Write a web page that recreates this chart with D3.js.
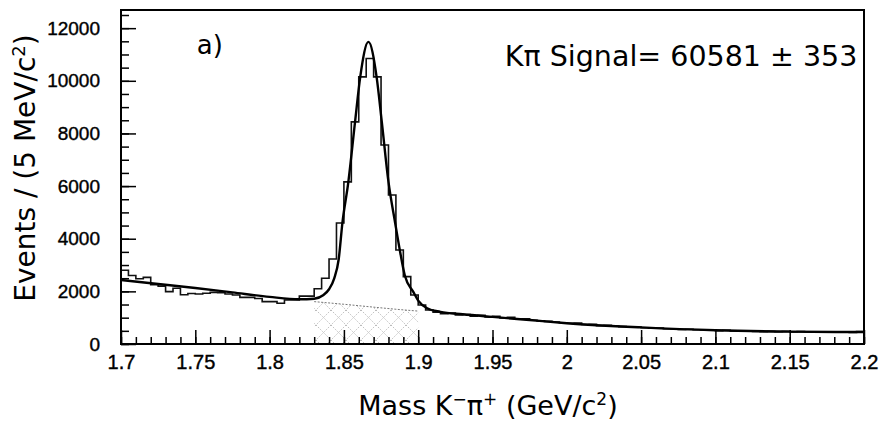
<!DOCTYPE html>
<html>
<head>
<meta charset="utf-8">
<script src="https://cdn.jsdelivr.net/npm/d3@7"></script>
<style>
  body { margin: 0; background: #fff; }
  svg { display: block; font-family: "DejaVu Sans", sans-serif; }
</style>
</head>
<body>
<div id="chart"></div>
<script>
// histogram: 100 bins of 5 MeV from 1.7 to 2.2 GeV
var binStart = 1.7, binWidth = 0.005;
var histCounts = [
  2800, 2600, 2480, 2530, 2250, 2200, 1990, 2120, 1870, 1920,
  1900, 1930, 1960, 1950, 1900, 1860, 1770, 1770, 1730, 1610,
  1610, 1550, 1670, 1670, 1820, 1820, 2100, 2500, 3230, 4600,
  6160, 8440, 10150, 10850, 10150, 7560, 5660, 3570, 2560, 1860,
  1480, 1290, 1210, 1150, 1180, 1100, 1120, 1060, 1090, 1030,
  1050, 990, 1010, 950, 960, 900, 880, 860, 830, 810,
  790, 800, 740, 750, 700, 710, 680, 660, 650, 640,
  620, 600, 610, 580, 570, 550, 560, 540, 530, 520,
  510, 520, 500, 490, 490, 480, 470, 480, 470, 480,
  460, 470, 460, 450, 460, 450, 450, 460, 440, 470
];

// fitted curve (signal + background)
var fitMass = [1.700, 1.725, 1.750, 1.775, 1.800, 1.820, 1.830, 1.836, 1.840, 1.8435,
  1.8465, 1.849, 1.853, 1.8575, 1.861, 1.8665, 1.872, 1.8755, 1.880, 1.8845,
  1.888, 1.891, 1.8967, 1.900, 1.906, 1.915, 1.930, 1.950, 1.975, 2.000,
  2.050, 2.100, 2.150, 2.200];
var fitCounts = [2430, 2280, 2130, 1960, 1790, 1700, 1720, 1850, 2080, 2490,
  3220, 4600, 6160, 8440, 10150, 11480, 10150, 8440, 6160, 4600,
  3450, 2600, 1980, 1650, 1360, 1220, 1130, 1030, 910, 790,
  630, 520, 470, 455];

// background under the peak (hatched)
var bgMass = [1.830, 1.850, 1.870, 1.885, 1.900];
var bgCounts = [1610, 1510, 1400, 1320, 1250];

var xMajor = [1.7, 1.75, 1.8, 1.85, 1.9, 1.95, 2, 2.05, 2.1, 2.15, 2.2];
var yMajor = [0, 2000, 4000, 6000, 8000, 10000, 12000];

var W = 885, H = 434;
var margin = { top: 10, right: 21, bottom: 90, left: 121 },
    width = W - margin.left - margin.right,
    height = H - margin.top - margin.bottom;

var xScale = d3.scaleLinear().domain([1.7, 2.2]).range([0, width]);
var yScale = d3.scaleLinear().domain([0, 12690]).range([height, 0]);

var svg = d3.select("#chart").append("svg")
    .attr("width", W)
    .attr("height", H);

var defs = svg.append("defs");
var pat = defs.append("pattern")
    .attr("id", "hatch")
    .attr("patternUnits", "userSpaceOnUse")
    .attr("width", 15).attr("height", 15);
pat.append("path").attr("d", "M0,0 L15,15 M15,0 L0,15")
    .attr("stroke", "#aaa").attr("stroke-width", 0.8)
    .attr("stroke-dasharray", "1.5,1.5").attr("fill", "none");
defs.append("clipPath").attr("id", "plotclip")
  .append("rect").attr("width", width).attr("height", height);

var g = svg.append("g")
    .attr("transform", "translate(" + margin.left + "," + margin.top + ")");

// hatched background region
var bgPts = bgMass.map(function(m, i) { return [m, bgCounts[i]]; });
g.append("path")
    .datum(bgPts)
    .attr("fill", "url(#hatch)")
    .attr("d", d3.area()
        .x(function(d) { return xScale(d[0]); })
        .y0(yScale(0))
        .y1(function(d) { return yScale(d[1]); }));
g.append("path")
    .datum(bgPts)
    .attr("fill", "none")
    .attr("stroke", "#777")
    .attr("stroke-width", 1)
    .attr("stroke-dasharray", "2,1.5")
    .attr("d", d3.line()
        .x(function(d) { return xScale(d[0]); })
        .y(function(d) { return yScale(d[1]); }));

// histogram
var histPts = histCounts.map(function(v, i) { return [binStart + i * binWidth, v]; });
histPts.push([binStart + histCounts.length * binWidth, histCounts[histCounts.length - 1]]);
g.append("path")
    .datum(histPts)
    .attr("clip-path", "url(#plotclip)")
    .attr("fill", "none")
    .attr("stroke", "#111")
    .attr("stroke-width", 1.6)
    .attr("d", d3.line()
        .curve(d3.curveStepAfter)
        .x(function(d) { return xScale(d[0]); })
        .y(function(d) { return yScale(d[1]); }));

// fit curve
var fitPts = fitMass.map(function(m, i) { return [m, fitCounts[i]]; });
g.append("path")
    .datum(fitPts)
    .attr("clip-path", "url(#plotclip)")
    .attr("fill", "none")
    .attr("stroke", "#000")
    .attr("stroke-width", 2.4)
    .attr("d", d3.line()
        .curve(d3.curveMonotoneX)
        .x(function(d) { return xScale(d[0]); })
        .y(function(d) { return yScale(d[1]); }));

// axes, ticks pointing inward
var fmt = function(d) { return String(+d.toFixed(2)); };
var xMinor = d3.range(0, 51).map(function(i) { return 1.7 + i * 0.01; });
var yMinor = d3.range(0, 26).map(function(i) { return i * 500; });

g.append("g")
    .attr("transform", "translate(0," + height + ")")
    .call(d3.axisBottom(xScale).tickValues(xMinor).tickSize(-7).tickFormat(""));
var xAxis = g.append("g")
    .attr("class", "x axis")
    .attr("transform", "translate(0," + height + ")")
    .call(d3.axisBottom(xScale).tickValues(xMajor).tickSize(-14).tickPadding(11).tickFormat(fmt));

g.append("g")
    .call(d3.axisLeft(yScale).tickValues(yMinor).tickSize(-8).tickFormat(""));
var yAxis = g.append("g")
    .attr("class", "y axis")
    .call(d3.axisLeft(yScale).tickValues(yMajor).tickSize(-15).tickPadding(21).tickFormat(d3.format("d")));

g.selectAll(".domain").remove();
g.selectAll(".tick line").attr("stroke", "#000").attr("stroke-width", 1.5);
xAxis.selectAll("text").attr("font-size", 20).attr("fill", "#000")
    .attr("stroke", "#000").attr("stroke-width", 0.4).attr("dy", "0.71em");
yAxis.selectAll("text").attr("font-size", 19).attr("fill", "#000")
    .attr("stroke", "#000").attr("stroke-width", 0.4);

// frame
g.append("rect")
    .attr("width", width).attr("height", height)
    .attr("fill", "none").attr("stroke", "#000").attr("stroke-width", 2);

// labels
g.append("text")
    .attr("x", xScale(1.751)).attr("y", 44)
    .attr("font-size", 26)
    .text("a)");

g.append("text")
    .attr("x", xScale(2.1955)).attr("y", 56)
    .attr("text-anchor", "end")
    .attr("font-size", 28.5)
    .text("K\u03C0 Signal= 60581 \u00B1 353");

var xt = svg.append("text")
    .attr("x", 488)
    .attr("y", 415)
    .attr("text-anchor", "middle")
    .attr("font-size", 27);
xt.append("tspan").text("Mass K");
xt.append("tspan").attr("baseline-shift", "super").attr("font-size", 17).text("\u2212");
xt.append("tspan").text("\u03C0");
xt.append("tspan").attr("baseline-shift", "super").attr("font-size", 17).text("+");
xt.append("tspan").text(" (GeV/c");
xt.append("tspan").attr("baseline-shift", "super").attr("font-size", 17).text("2");
xt.append("tspan").text(")");

var yt = svg.append("text")
    .attr("transform", "translate(35," + (margin.top + 158) + ") rotate(-90)")
    .attr("text-anchor", "middle")
    .attr("font-size", 28);
yt.append("tspan").text("Events / (5 MeV/c");
yt.append("tspan").attr("baseline-shift", "super").attr("font-size", 18).text("2");
yt.append("tspan").text(")");
</script>
</body>
</html>
